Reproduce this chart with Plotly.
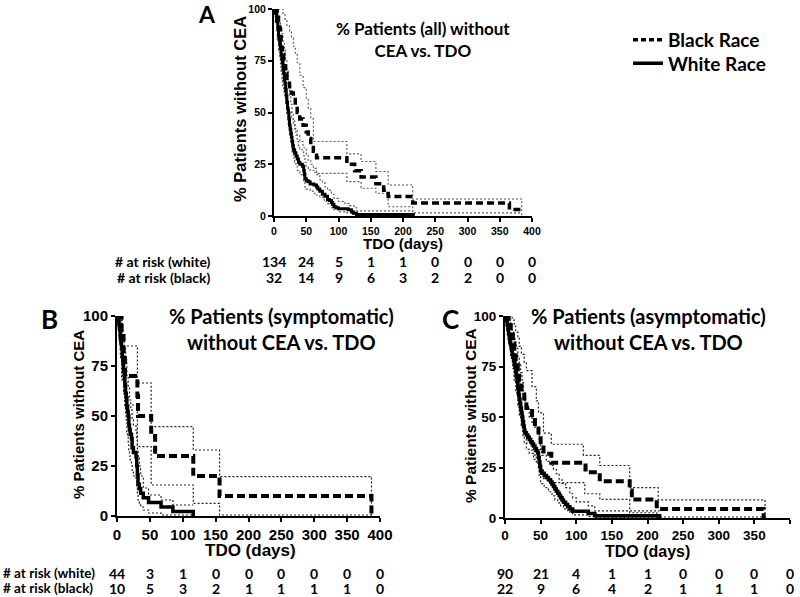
import plotly.graph_objects as go

# ---------------- Panel A (all patients) ----------------
a_black_t = [0, 5, 7, 9, 10, 11, 12, 13, 15, 17, 18, 20, 24, 27, 30, 33, 36, 40, 45, 50, 53, 57, 61, 66, 113, 125, 135, 158, 170, 177, 215, 365, 384]
a_black_s = [100, 96.9, 93.8, 90.6, 87.5, 84.4, 81.3, 78.1, 75, 71.9, 68.8, 65.6, 62.5, 59.4, 56.3, 53.1, 50, 46.9, 43.8, 40.6, 37.5, 34.4, 31.3, 28.1, 25, 21.9, 18.8, 15.6, 12.5, 9.4, 6.3, 3.1, 3.1]
a_black_up_t = [0, 14, 17, 20, 24, 27, 30, 33, 36, 40, 45, 50, 53, 57, 61, 113, 135, 158, 177, 215, 384, 384]
a_black_up_s = [100, 98, 95, 92, 89, 86, 82, 78, 74, 68, 62, 57, 52, 47, 36, 30, 26.3, 21.5, 15, 8.2, 8.2, 0]
a_black_lo_t = [0, 5, 7, 9, 10, 11, 12, 13, 15, 17, 18, 20, 24, 27, 30, 33, 36, 40, 45, 50, 53, 57, 61, 66, 113, 135, 158, 177, 215, 384]
a_black_lo_s = [100, 85, 80, 76, 72, 69, 66, 63, 60, 57, 54, 52, 50, 47, 44, 42, 39, 36, 33, 30, 27, 25, 23, 20.6, 16.6, 13.4, 11, 4.5, 1.5, 1.5]

a_white_t = [0, 2, 4, 6, 7, 8, 9, 10, 11, 12, 13, 14, 15, 16, 17, 18, 19, 20, 21, 22, 23, 24, 25, 26, 27, 28, 29, 30, 32, 34, 36, 38, 40, 44, 46, 47, 48, 50, 53, 56, 62, 66, 68, 71, 75, 79, 83, 86, 89, 91, 93, 96, 100, 115, 120, 123, 128, 216]
a_white_s = [100, 97.8, 94, 90, 87, 85, 83, 81, 78, 76, 74, 71, 69, 66, 64, 61, 58, 55, 52, 50, 47, 44, 42, 40, 38, 36, 34, 32, 30.5, 29, 27.5, 26, 25, 24, 22, 20, 18, 17, 16.5, 15.5, 15, 14, 13, 12, 10.5, 9.5, 8, 7.5, 6.5, 5.5, 4.5, 4, 3.5, 3, 2, 1.3, 0.7, 0]
a_white_up_t = [0, 6, 8, 10, 12, 14, 16, 18, 20, 22, 24, 26, 28, 30, 32, 34, 36, 38, 40, 44, 46, 48, 50, 53, 56, 62, 66, 71, 75, 79, 83, 89, 93, 100, 110, 117, 124, 128, 216]
a_white_up_s = [100, 97, 94, 91, 88, 84, 80, 75, 70, 64, 58, 54, 50, 46, 42, 39, 36, 34, 32, 31, 29, 26, 24, 23, 22, 21, 20, 17.5, 16, 14, 12.5, 10.5, 8.5, 7, 6, 5, 4, 2.5, 2.5]
a_white_lo_t = [0, 2, 4, 6, 8, 10, 12, 14, 16, 18, 20, 22, 24, 26, 28, 30, 32, 34, 36, 40, 46, 48, 50, 56, 62, 66, 71, 78, 83, 89, 93, 100, 110, 120, 128, 216]
a_white_lo_s = [100, 94, 90, 85, 80, 75, 70, 65, 60, 55, 49, 44, 39, 35, 31, 28, 26, 24, 22, 20, 17, 14, 13, 12, 11, 10, 9, 7, 6, 4, 3, 2, 1.5, 1, 0.2, 0.2]

a_risk_white = [134, 24, 5, 1, 1, 0, 0, 0, 0]
a_risk_black = [32, 14, 9, 6, 3, 2, 2, 0, 0]

# ---------------- Panel B (symptomatic) ----------------
b_black_t = [0, 7, 10, 12, 31, 32, 52, 58, 116, 156, 387]
b_black_s = [100, 90, 80, 70, 60, 50, 40, 30, 20, 10, 0]
b_black_up_t = [0, 8, 31, 52, 116, 156, 387, 387]
b_black_up_s = [100, 85, 66.5, 44.7, 33, 19.7, 19.7, 0]
b_black_lo_t = [0, 7, 10, 12, 31, 52, 116, 156, 387]
b_black_lo_s = [100, 68, 62, 55.5, 34.7, 15.5, 6.3, 0.5, 0.5]

b_white_t = [0, 2, 3, 4, 5, 6, 7, 8, 9, 10, 11, 12, 13, 14, 15, 16, 17, 18, 19, 20, 22, 23, 25, 29, 30, 31, 32, 34, 36, 40, 48, 67, 85, 116]
b_white_s = [100, 97.7, 95.5, 93.2, 88.6, 86.4, 84.1, 79.5, 77.3, 72.7, 70.5, 65.9, 61.4, 59.1, 54.5, 52.3, 50, 45.5, 43.2, 40.9, 38.6, 34.1, 31.8, 29.5, 25, 20.5, 15.9, 13.6, 11.4, 9.1, 6.8, 4.5, 2.3, 0]
b_white_up_t = [0, 5, 7, 9, 11, 13, 15, 17, 19, 21, 23, 25, 29, 30, 31, 32, 34, 36, 40, 48, 67, 85, 116]
b_white_up_s = [100, 97, 94, 90, 84, 78, 70, 64, 58, 53, 48, 45, 42, 38, 33, 29, 25, 20, 14, 10.5, 8, 5.5, 5.5]
b_white_lo_t = [0, 2, 3, 4, 5, 6, 7, 8, 9, 10, 11, 12, 13, 14, 15, 16, 17, 18, 19, 20, 22, 23, 25, 29, 30, 31, 32, 34, 36, 40, 48, 67, 116]
b_white_lo_s = [100, 93, 90, 87, 81, 78, 75, 70, 67, 62, 60, 55, 50, 47, 42, 40, 37, 33, 30, 28, 26, 22, 20, 18, 15, 11, 8, 6, 4.5, 3, 1.5, 0.5, 0]

b_risk_white = [44, 3, 1, 0, 0, 0, 0, 0, 0]
b_risk_black = [10, 5, 3, 2, 1, 1, 1, 1, 0]

# ---------------- Panel C (asymptomatic) ----------------
c_black_t = [0, 5, 8, 11, 13, 15, 18, 20, 23, 27, 30, 38, 42, 47, 50, 54, 65, 113, 133, 175, 178, 213, 363]
c_black_s = [100, 95.5, 90.9, 86.4, 81.8, 77.3, 72.7, 68.2, 63.6, 59.1, 54.5, 50, 45.5, 40.9, 36.4, 31.8, 27.3, 22.7, 18.2, 13.6, 9.1, 4.5, 0]
c_black_up_t = [0, 10, 13, 15, 18, 20, 23, 27, 30, 38, 44, 47, 54, 65, 110, 133, 175, 215, 365, 365]
c_black_up_s = [100, 98, 95, 92, 89, 85, 81, 77, 73, 65, 58, 52, 42, 36.5, 31, 26, 15, 9, 9, 0]
c_black_lo_t = [0, 5, 8, 11, 13, 15, 18, 20, 23, 27, 30, 38, 42, 47, 50, 54, 65, 112, 133, 175, 213, 363]
c_black_lo_s = [100, 86, 80, 74, 68, 62, 56, 51, 46, 41, 37, 33, 30, 25, 22, 19.5, 17.5, 12, 9.2, 2.6, 0.5, 0.5]

c_white_t = [0, 2, 3, 4, 5, 6, 7, 8, 9, 10, 11, 12, 13, 14, 15, 16, 17, 18, 19, 20, 21, 22, 23, 24, 25, 26, 27, 28, 30, 32, 34, 36, 38, 40, 42, 44, 46, 47, 48, 49, 50, 52, 55, 58, 61, 64, 66, 68, 70, 72, 74, 76, 78, 80, 82, 85, 88, 91, 95, 117, 126, 217]
c_white_s = [100, 97.8, 95.6, 93.3, 91.1, 88.9, 86.7, 85.6, 83.3, 81.1, 80, 77.8, 76.7, 74.4, 72.2, 70, 67.8, 64.4, 61.1, 58.9, 56.7, 54.4, 52.2, 50, 47.8, 45.6, 43.3, 42.2, 41.1, 40, 38.9, 37.8, 36.7, 35.6, 34.4, 33.3, 32.2, 30, 27.8, 25.6, 23.3, 22.2, 21.1, 20, 18.9, 17.8, 16.7, 15.6, 14.4, 13.3, 12.2, 11.1, 10, 8.9, 7.8, 6.7, 5.6, 4.4, 3.3, 2.2, 1.1, 0]
c_white_up_t = [0, 5, 8, 10, 12, 14, 16, 18, 20, 22, 24, 26, 28, 30, 34, 38, 42, 46, 48, 50, 52, 58, 64, 68, 72, 76, 80, 85, 91, 95, 100, 117, 126, 217]
c_white_up_s = [100, 98, 96, 93, 90, 87, 84, 80, 76, 72, 67, 63, 58, 54, 50, 47, 45, 42, 38, 34, 31, 28, 26, 24, 22, 19, 17, 15, 12, 10, 8, 6, 3.5, 3.5]
c_white_lo_t = [0, 3, 5, 7, 9, 11, 13, 15, 17, 19, 21, 23, 25, 27, 30, 34, 40, 44, 47, 48, 50, 55, 61, 66, 70, 74, 78, 82, 88, 95, 117, 126, 217]
c_white_lo_s = [100, 94, 88, 83, 79, 75, 70, 66, 61, 55, 50, 45, 41, 37, 34, 32, 29, 27, 24, 21, 17, 15, 13, 11, 9, 7.5, 6, 4.5, 3, 1.5, 0.8, 0.2, 0.2]

c_risk_white = [90, 21, 4, 1, 1, 0, 0, 0, 0]
c_risk_black = [22, 9, 6, 4, 2, 1, 1, 1, 0]

x_ticks = [0, 50, 100, 150, 200, 250, 300, 350, 400]
y_ticks = [0, 25, 50, 75, 100]

ARIAL = "Liberation Sans, Arial, sans-serif"
CAL = "Lato, Open Sans, sans-serif"

fig = go.Figure()


def line(t, s, xa, ya, dash, width, color):
    fig.add_trace(go.Scatter(
        x=t, y=s, mode="lines", showlegend=False,
        line=dict(shape="hv", dash=dash, width=width, color=color),
        xaxis=xa, yaxis=ya, cliponaxis=False, hoverinfo="skip"))


DOT = "2px,2px"
DASH = "8px,4px"

# Panel A
for t, s in [(a_black_up_t, a_black_up_s), (a_black_lo_t, a_black_lo_s),
             (a_white_up_t, a_white_up_s), (a_white_lo_t, a_white_lo_s)]:
    line(t, s, "x", "y", DOT, 1.1, "#555")
line(a_white_t, a_white_s, "x", "y", "solid", 3, "black")
line(a_black_t, a_black_s, "x", "y", "7px,4px", 3.5, "black")

# Panel B
for t, s in [(b_black_up_t, b_black_up_s), (b_black_lo_t, b_black_lo_s),
             (b_white_up_t, b_white_up_s), (b_white_lo_t, b_white_lo_s)]:
    line(t, s, "x2", "y2", DOT, 1.2, "#222")
line(b_white_t, b_white_s, "x2", "y2", "solid", 3.5, "black")
line(b_black_t, b_black_s, "x2", "y2", DASH, 4, "black")

# Panel C
for t, s in [(c_black_up_t, c_black_up_s), (c_black_lo_t, c_black_lo_s),
             (c_white_up_t, c_white_up_s), (c_white_lo_t, c_white_lo_s)]:
    line(t, s, "x3", "y3", DOT, 1.2, "#222")
line(c_white_t, c_white_s, "x3", "y3", "solid", 3.5, "black")
line(c_black_t, c_black_s, "x3", "y3", DASH, 4, "black")

# legend entries (two separate legends for exact placement)
fig.add_trace(go.Scatter(x=[None], y=[None], mode="lines", name="Black Race",
                         line=dict(dash="5px,3px", width=3.5, color="black"),
                         xaxis="x", yaxis="y", showlegend=True, legend="legend"))
fig.add_trace(go.Scatter(x=[None], y=[None], mode="lines", name="White Race",
                         line=dict(width=3.5, color="black"),
                         xaxis="x", yaxis="y", showlegend=True, legend="legend2"))

H = 597.0


def py(p):
    return 1 - p / H


def axes(domx, domy, anchor, tick_size):
    common = dict(showline=True, linecolor="black", linewidth=2, ticks="outside",
                  ticklen=4, tickwidth=2, tickcolor="black", showgrid=False,
                  zeroline=False, fixedrange=True, automargin=False,
                  tickfont=dict(family=ARIAL, size=tick_size, color="black", weight="bold"))
    xa = dict(common, domain=domx, range=[0, 400], tickvals=x_ticks, anchor=anchor[1])
    ya = dict(common, domain=domy, range=[0, 100], tickvals=y_ticks, anchor=anchor[0])
    return xa, ya


xa1, ya1 = axes([274 / 800, 532 / 800], [py(216), py(9)], ("x", "y"), 10.5)
xa2, ya2 = axes([117 / 800, 380 / 800], [py(516), py(316)], ("x2", "y2"), 15)
xa3, ya3 = axes([505 / 800, 790 / 800], [py(518), py(316)], ("x3", "y3"), 13.5)

legend_style = dict(xanchor="left", yanchor="top",
                    font=dict(family=CAL, size=19, color="black", weight="bold"),
                    itemwidth=30, tracegroupgap=0, bgcolor="rgba(0,0,0,0)")

fig.update_layout(
    width=800, height=597,
    margin=dict(l=0, r=0, t=0, b=0, pad=0, autoexpand=False),
    paper_bgcolor="white", plot_bgcolor="white",
    xaxis=xa1, yaxis=ya1, xaxis2=xa2, yaxis2=ya2, xaxis3=xa3, yaxis3=ya3,
    legend=dict(legend_style, x=628 / 800, y=py(21)),
    legend2=dict(legend_style, x=628 / 800, y=py(44.5)),
)

ann = []


def text(x, y, s, size, family=CAL, angle=0, xanchor="center", xref="paper"):
    ann.append(dict(x=x, y=y, xref=xref, yref="paper", text=s, showarrow=False,
                    xanchor=xanchor, yanchor="middle", textangle=angle,
                    font=dict(family=family, size=size, color="black", weight="bold")))


# panel letters
text(207 / 800, py(14), "A", 23)
text(49 / 800, py(319), "B", 26)
text(450 / 800, py(319), "C", 26)

# panel titles
text(423 / 800, py(39.5), "% Patients (all) without<br>CEA vs. TDO", 17)
text(281 / 800, py(328.5), "% Patients (symptomatic)<br>without CEA vs. TDO", 20)
text(648 / 800, py(328.5), "% Patients (asymptomatic)<br>without CEA vs. TDO", 20)

# y axis titles
text(240 / 800, py(109), "% Patients without CEA", 16.5, ARIAL, -90)
text(78 / 800, py(415), "% Patients without CEA", 15, ARIAL, -90)
text(470 / 800, py(416), "% Patients without CEA", 15.5, ARIAL, -90)

# x axis titles
text(403 / 800, py(243), "TDO (days)", 15, ARIAL)
text(250 / 800, py(550), "TDO (days)", 17, ARIAL)
text(647 / 800, py(551), "TDO (days)", 16, ARIAL)

# at-risk tables
text(213 / 800, py(261), "# at risk (white)", 14, CAL, 0, "right")
text(213 / 800, py(277), "# at risk (black)", 14, CAL, 0, "right")
text(1 / 800, py(573), "# at risk (white)", 13.5, CAL, 0, "left")
text(1 / 800, py(588), "# at risk (black)", 13.5, CAL, 0, "left")

for xr, rw, rb, yw, yb in [("x", a_risk_white, a_risk_black, 261, 277),
                           ("x2", b_risk_white, b_risk_black, 573, 588),
                           ("x3", c_risk_white, c_risk_black, 573, 588)]:
    for xv, w, b in zip(x_ticks, rw, rb):
        text(xv, py(yw), str(w), 14, CAL, 0, "center", xr)
        text(xv, py(yb), str(b), 14, CAL, 0, "center", xr)

fig.update_layout(annotations=ann)
fig.write_html("out.html", config={"displayModeBar": False},
               post_script="document.body.style.margin='0px';document.body.style.padding='0px';document.body.style.overflow='hidden';")
